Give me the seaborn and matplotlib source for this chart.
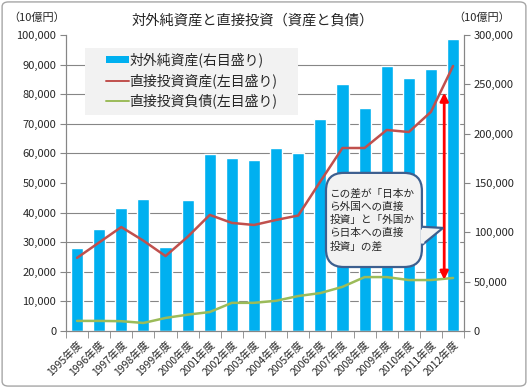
import numpy as np
import pandas as pd
import matplotlib
matplotlib.use('Agg')
import matplotlib.pyplot as plt
import seaborn as sns
from matplotlib.lines import Line2D
from matplotlib.patches import Patch, FancyBboxPatch, Rectangle, Polygon

sns.set_style('white')
plt.rcParams['font.family'] = ['Noto Sans CJK JP', 'DejaVu Sans']

years = ['1995年度', '1996年度', '1997年度', '1998年度', '1999年度', '2000年度',
         '2001年度', '2002年度', '2003年度', '2004年度', '2005年度', '2006年度',
         '2007年度', '2008年度', '2009年度', '2010年度', '2011年度', '2012年度']
# 対外純資産 (right axis, 10億円)
net_assets = [84100, 103400, 124600, 133300, 84700, 133000, 179300, 175300, 172800,
              185800, 180700, 215100, 250200, 225500, 268200, 255900, 265400, 296300]
# 直接投資資産 (left axis)
di_assets = [24700, 29900, 35100, 30500, 25300, 31800, 39200, 36500, 35800,
             37500, 39000, 50500, 61800, 61800, 67900, 67200, 74000, 89500]
# 直接投資負債 (left axis)
di_liab = [3400, 3400, 3300, 2700, 4400, 5500, 6400, 9500, 9500,
           10200, 11800, 12800, 14900, 18200, 18200, 17200, 17200, 17900]

df = pd.DataFrame({'year': years, 'pos': np.arange(len(years)),
                   'net': net_assets, 'assets': di_assets, 'liab': di_liab})

bar_c = '#00B0F0'
red_c = '#C0504D'
green_c = '#9BBB59'
grid_c = '#868686'
box_fc = '#f2f2f2'
box_ec = '#3d5f8f'

fig = plt.figure(figsize=(5.28, 3.88), dpi=100)
ax = fig.add_axes([0.125, 0.147, 0.754, 0.763])
ax2 = ax.twinx()

# bars on the right axis, drawn underneath
sns.barplot(data=df, x='year', y='net', color=bar_c, width=0.55, saturation=1,
            ax=ax2)
ax2.set_ylim(0, 300000)
ax2.set_yticks(np.arange(0, 300001, 50000))
ax2.set_yticklabels([f'{v:,}' for v in range(0, 300001, 50000)], fontsize=8)
ax2.set_yticks(np.arange(0, 300001, 30000), minor=True)
ax2.grid(which='minor', axis='y', color=grid_c, lw=0.8)
ax2.set_axisbelow(True)
ax2.tick_params(axis='y', which='major', length=4, color=grid_c, pad=3)
ax2.tick_params(axis='y', which='minor', length=0)
ax2.set_ylabel('')
ax2.set_xlabel('')

# lines on the left axis, drawn on top
sns.lineplot(data=df, x='pos', y='assets', color=red_c, lw=1.8, ax=ax)
sns.lineplot(data=df, x='pos', y='liab', color=green_c, lw=1.8, ax=ax)
ax.set_zorder(ax2.get_zorder() + 1)
ax.patch.set_visible(False)
ax.set_ylim(0, 100000)
ax.set_yticks(np.arange(0, 100001, 10000))
ax.set_yticklabels([f'{v:,}' for v in range(0, 100001, 10000)], fontsize=8)
ax.tick_params(axis='y', length=4, color=grid_c, pad=3, left=True)
ax.set_xlim(-0.5, len(years) - 0.5)
ax.set_xticks(np.arange(len(years)))
ax.set_xticklabels(years, rotation=45, ha='right', rotation_mode='anchor',
                   fontsize=7.5)
ax.set_xticks(np.arange(len(years) + 1) - 0.5, minor=True)
ax.tick_params(axis='x', which='major', length=0, pad=6)
ax.tick_params(axis='x', which='minor', length=5, color=grid_c, bottom=True)
ax.set_xlabel('')
ax.set_ylabel('')

for a in (ax, ax2):
    for s in a.spines.values():
        s.set_color(grid_c)
        s.set_linewidth(0.8)
    a.spines['top'].set_visible(False)

# legend: grey panel plus frameless legend
ax.add_patch(Rectangle((0.048, 0.73), 0.535, 0.226, transform=ax.transAxes,
                       fc=box_fc, ec='none', zorder=0.5))
handles = [Patch(facecolor=bar_c, edgecolor='none'),
           Line2D([], [], color=red_c, lw=1.4),
           Line2D([], [], color=green_c, lw=1.4)]
labels = ['対外純資産(右目盛り)', '直接投資資産(左目盛り)', '直接投資負債(左目盛り)']
ax.legend(handles, labels, loc='upper left', bbox_to_anchor=(0.1, 0.94),
          fontsize=10, frameon=False, handlelength=1.65, handleheight=0.3,
          handletextpad=0.05, labelspacing=0.4, borderpad=0, borderaxespad=0)

# double arrow showing the gap
ax.annotate('', xy=(16.6, 17300), xytext=(16.6, 80500),
            arrowprops=dict(arrowstyle='<|-|>', color='#FF0000', lw=2,
                            mutation_scale=12, shrinkA=0, shrinkB=0), zorder=5)

# callout bubble
bx0, by0, bw, bh = 0.653, 0.216, 0.241, 0.318
ax.add_patch(FancyBboxPatch((bx0, by0), bw, bh, transform=ax.transAxes,
                            boxstyle='round,pad=0,rounding_size=0.045',
                            mutation_aspect=1.34, fc=box_fc, ec=box_ec, lw=1.6,
                            zorder=6))
ax.add_patch(Polygon([(bx0 + bw, 0.352), (0.947, 0.348), (bx0 + bw, 0.29)],
                     closed=False, transform=ax.transAxes, fc=box_fc, ec=box_ec,
                     lw=1.6, zorder=7))
ax.plot([bx0 + bw, bx0 + bw], [0.346, 0.297], transform=ax.transAxes,
        color=box_fc, lw=2.5, zorder=8, solid_capstyle='butt')
ax.text(0.662, 0.375, 'この差が「日本か\nら外国への直接\n投資」と「外国か\nら日本への直接\n投資」の差',
        transform=ax.transAxes, ha='left', va='center', fontsize=7.7,
        linespacing=1.4, zorder=9)

fig.text(0.478, 0.948, '対外純資産と直接投資（資産と負債）', ha='center', va='center',
         fontsize=10.3)
fig.text(0.016, 0.955, '（10億円）', ha='left', va='center', fontsize=8)
fig.text(0.858, 0.955, '（10億円）', ha='left', va='center', fontsize=8)

border = FancyBboxPatch((0.004, 0.005), 0.992, 0.99, transform=fig.transFigure,
                        boxstyle='round,pad=0,rounding_size=0.012', fc='none',
                        ec='#a6a6a6', lw=1)
fig.patches.append(border)

fig.savefig('out.png', dpi=100)
